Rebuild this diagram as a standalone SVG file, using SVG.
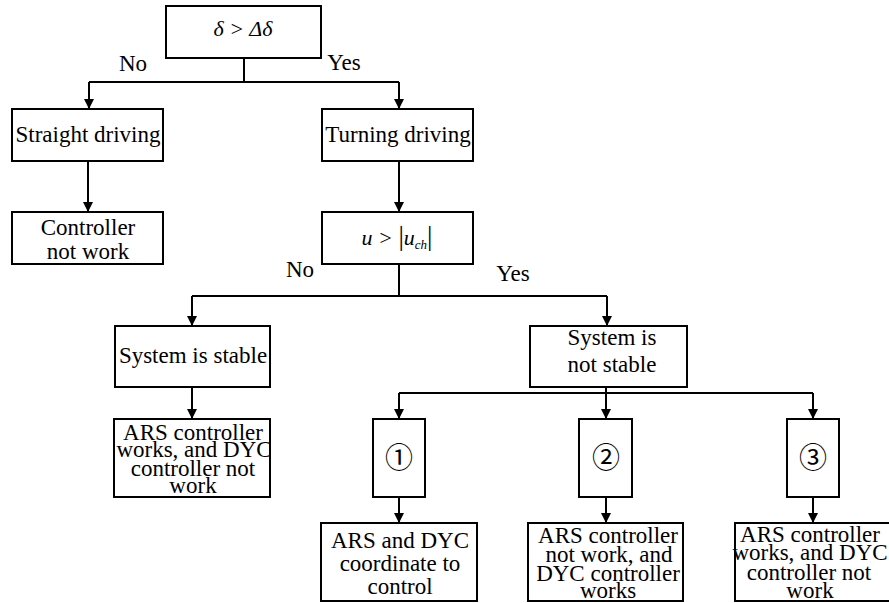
<svg xmlns="http://www.w3.org/2000/svg" width="889" height="603" viewBox="0 0 889 603">
<defs>
<marker id="ah" viewBox="0 0 10 10" refX="10" refY="5" markerWidth="10" markerHeight="10" markerUnits="userSpaceOnUse" orient="auto">
<path d="M0,0 L10,5 L0,10 z" fill="#000"/>
</marker>
<style>
.box{fill:#fff;stroke:#000;stroke-width:2}
.c path{fill:none;stroke:#000;stroke-width:2}
</style>
</defs>
<rect x="0" y="0" width="889" height="603" fill="#fff"/>
<g class="c" id="connectors">
<path d="M244,58 V82 M89,82 H399"/>
<path d="M89,82 V109" marker-end="url(#ah)"/>
<path d="M399,82 V109" marker-end="url(#ah)"/>
<path d="M88,161 V212" marker-end="url(#ah)"/>
<path d="M399,161 V212" marker-end="url(#ah)"/>
<path d="M399,264 V296 M192,296 H607"/>
<path d="M192,296 V326" marker-end="url(#ah)"/>
<path d="M607,296 V326" marker-end="url(#ah)"/>
<path d="M192,387 V419" marker-end="url(#ah)"/>
<path d="M606,387 V419" marker-end="url(#ah)"/>
<path d="M399,393 H813"/>
<path d="M399,393 V419" marker-end="url(#ah)"/>
<path d="M813,393 V419" marker-end="url(#ah)"/>
<path d="M399,497 V523" marker-end="url(#ah)"/>
<path d="M606,497 V523" marker-end="url(#ah)"/>
<path d="M813,497 V523" marker-end="url(#ah)"/>
</g>
<g font-family="Liberation Serif, Times New Roman, serif" font-size="23" fill="#000" text-anchor="middle">
<g id="labels">
<text x="133" y="71">No</text>
<text x="344" y="70">Yes</text>
<text x="300" y="277">No</text>
<text x="513" y="281">Yes</text>
</g>
<g id="cond1">
<rect class="box" x="166" y="6" width="155" height="52"/>
<text x="243" y="36" font-style="italic" font-size="22">δ &gt; Δδ</text>
</g>
<g id="straight">
<rect class="box" x="12" y="109" width="151" height="52"/>
<text x="88" y="142">Straight driving</text>
</g>
<g id="turning">
<rect class="box" x="322" y="109" width="151" height="52"/>
<text x="398" y="142">Turning driving</text>
</g>
<g id="ctrlnot">
<rect class="box" x="12" y="212" width="151" height="52"/>
<text x="88" y="235">Controller</text>
<text x="88" y="259">not work</text>
</g>
<g id="cond2">
<rect class="box" x="322" y="212" width="151" height="52"/>
<text x="397" y="245" font-style="italic" font-size="22">u &gt; <tspan font-style="normal" font-size="27">|</tspan>u<tspan font-size="13" dy="4">ch</tspan><tspan font-style="normal" font-size="27" dy="-4">|</tspan></text>
</g>
<g id="stable">
<rect class="box" x="115" y="326" width="155" height="61"/>
<text x="193" y="363">System is stable</text>
</g>
<g id="notstable">
<rect class="box" x="530" y="326" width="157" height="61"/>
<text x="612" y="345">System is</text>
<text x="612" y="372">not stable</text>
</g>
<g id="arsworks1">
<rect class="box" x="114" y="419" width="156" height="78"/>
<text x="193" y="440">ARS controller</text>
<text x="194" y="457">works, and DYC</text>
<text x="193" y="476">controller not</text>
<text x="193" y="493">work</text>
</g>
<g id="case1">
<rect class="box" x="373" y="419" width="52" height="78"/>
<text x="399" y="468" font-family="Noto Sans CJK SC, sans-serif" font-size="28">①</text>
</g>
<g id="case2">
<rect class="box" x="579" y="419" width="53" height="78"/>
<text x="606" y="468" font-family="Noto Sans CJK SC, sans-serif" font-size="28">②</text>
</g>
<g id="case3">
<rect class="box" x="787" y="419" width="52" height="78"/>
<text x="813" y="468" font-family="Noto Sans CJK SC, sans-serif" font-size="28">③</text>
</g>
<g id="coord">
<rect class="box" x="321" y="523" width="156" height="78"/>
<text x="400" y="548">ARS and DYC</text>
<text x="400" y="571">coordinate to</text>
<text x="400" y="594">control</text>
</g>
<g id="dycworks">
<rect class="box" x="528" y="523" width="155" height="78"/>
<text x="608" y="543">ARS controller</text>
<text x="609" y="562">not work, and</text>
<text x="608" y="581">DYC controller</text>
<text x="608" y="598">works</text>
</g>
<g id="arsworks2">
<rect class="box" x="735" y="523" width="160" height="78"/>
<text x="810" y="542">ARS controller</text>
<text x="810" y="560">works, and DYC</text>
<text x="809" y="580">controller not</text>
<text x="810" y="598">work</text>
</g>
</g>
</svg>
